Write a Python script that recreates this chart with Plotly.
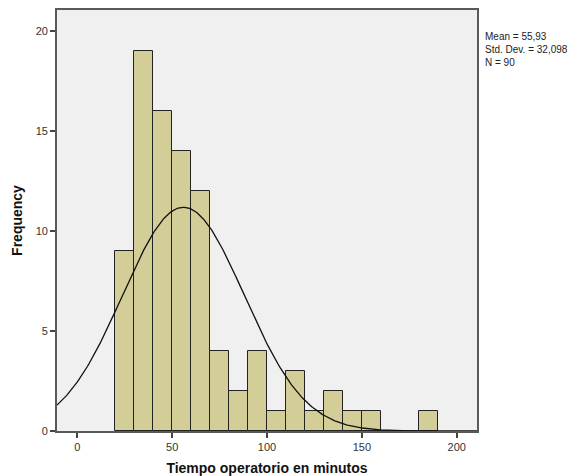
import numpy as np
import plotly.graph_objects as go

bin_starts = [20, 30, 40, 50, 60, 70, 80, 90, 100, 110, 120, 130, 140, 150, 160, 170, 180]
counts = [9, 19, 16, 14, 12, 4, 2, 4, 1, 3, 1, 2, 1, 1, 0, 0, 1]
bin_width = 10
mean_val = 55.93
std_val = 32.098
n_val = 90
x_ticks = [0, 50, 100, 150, 200]
y_ticks = [0, 5, 10, 15, 20]

centers = [s + bin_width / 2 for s in bin_starts]

xs = np.linspace(-10.7, 210.7, 400)
ys = n_val * bin_width / (std_val * np.sqrt(2 * np.pi)) * np.exp(-0.5 * ((xs - mean_val) / std_val) ** 2)

fig = go.Figure()
fig.add_trace(go.Bar(
    x=centers, y=counts, width=bin_width,
    marker=dict(color="#D3CE97", line=dict(color="#222222", width=1)),
    hoverinfo="x+y", showlegend=False,
))
fig.add_trace(go.Scatter(
    x=xs, y=ys, mode="lines", line=dict(color="#111111", width=1.3),
    showlegend=False, hoverinfo="skip",
))

fig.update_layout(
    width=577, height=476,
    margin=dict(l=57, r=100, t=10, b=45, autoexpand=False),
    paper_bgcolor="white", plot_bgcolor="#F0F0F0",
    font=dict(family="Liberation Sans, Arial, sans-serif", size=11, color="#222222"),
    bargap=0,
    xaxis=dict(
        range=[-10.7, 210.7], tickvals=x_ticks, ticks="outside", ticklen=5,
        tickcolor="#444444", tickwidth=1.5, showgrid=False, zeroline=False, automargin=False,
        showline=True, linecolor="#595959", linewidth=1.8, mirror=True,
        title=dict(text="<b>Tiempo operatorio en minutos</b>", font=dict(size=14, color="#111111"), standoff=14),
        tickfont=dict(size=11, color="#333333"),
    ),
    yaxis=dict(
        range=[0, 21.05], tickvals=y_ticks, ticks="outside", ticklen=5,
        tickcolor="#444444", tickwidth=1.5, showgrid=False, zeroline=False, automargin=False,
        showline=True, linecolor="#595959", linewidth=1.8, mirror=True,
        title=dict(text="<b>Frequency</b>", font=dict(size=14, color="#111111"), standoff=10),
        tickfont=dict(size=11, color="#333333"),
    ),
    annotations=[dict(
        xref="paper", yref="paper", x=1.015, y=0.955, xanchor="left", yanchor="top",
        align="left", showarrow=False,
        text=f"Mean = {str(mean_val).replace('.', ',')}<br>Std. Dev. = {str(std_val).replace('.', ',')}<br>N = {n_val}",
        font=dict(size=10, color="#222222"),
    )],
)

fig.write_html(
    "out.html",
    config={"displayModeBar": False},
    post_script="document.body.style.margin='0';document.body.style.overflow='hidden';",
)
